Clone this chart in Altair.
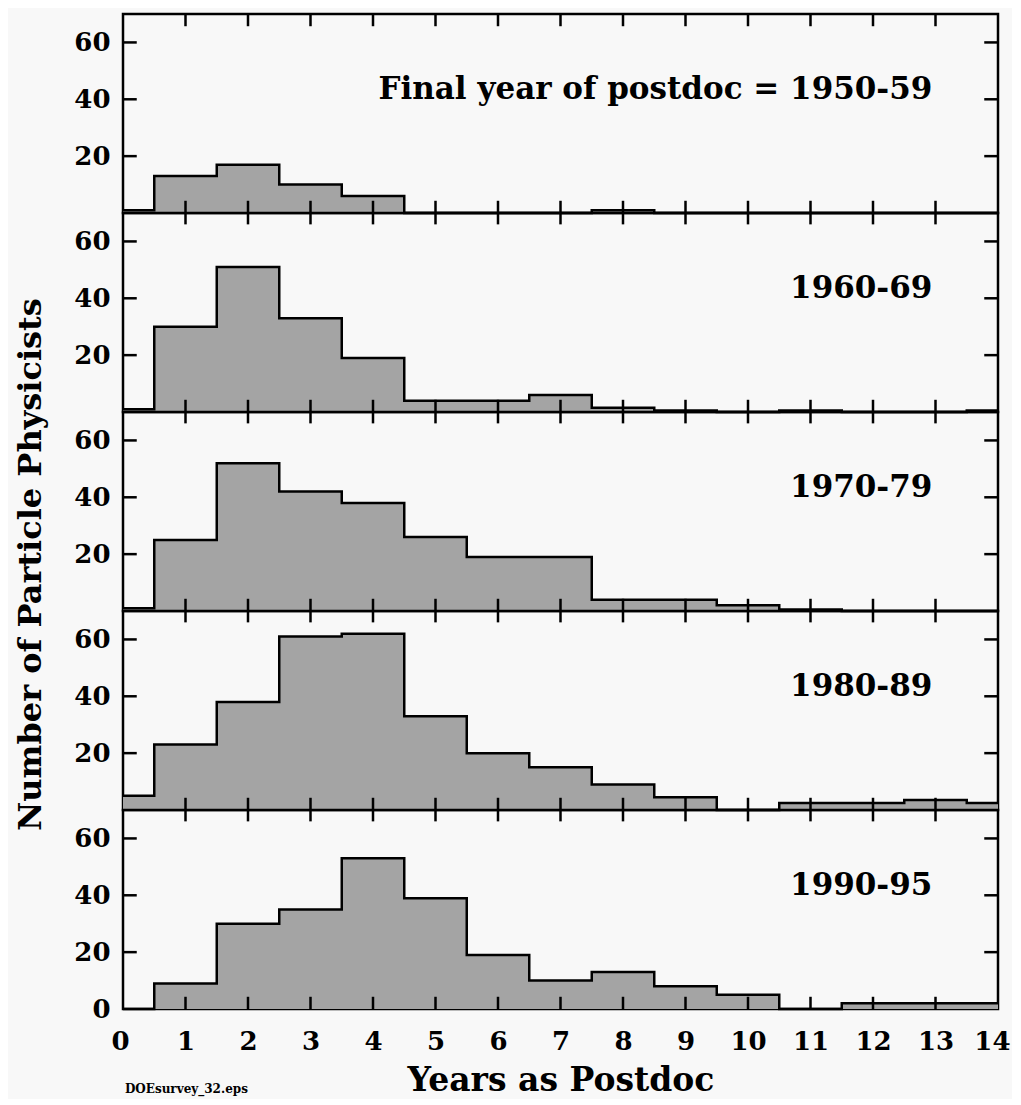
import altair as alt
import pandas as pd

# ---------------- data ----------------
bin_left_edges = [0, 0.5, 1.5, 2.5, 3.5, 4.5, 5.5, 6.5, 7.5, 8.5, 9.5, 10.5, 11.5, 12.5, 13.5]
x_end = 14

counts_1950s = [1, 13, 17, 10, 6, 0, 0, 0, 1, 0, 0, 0, 0, 0, 0]
counts_1960s = [1, 30, 51, 33, 19, 4, 4, 6, 1.5, 0.5, 0, 0.5, 0, 0, 0.5]
counts_1970s = [1, 25, 52, 42, 38, 26, 19, 19, 4, 4, 2, 0.5, 0, 0, 0]
counts_1980s = [5, 23, 38, 61, 62, 33, 20, 15, 9, 4.5, 0, 2.5, 2.5, 3.5, 2.5]
counts_1990s = [0, 9, 30, 35, 53, 39, 19, 10, 13, 8, 5, 0, 2, 2, 2]

series = [counts_1950s, counts_1960s, counts_1970s, counts_1980s, counts_1990s]
panel_labels = ["Final year of postdoc = 1950-59", "1960-69", "1970-79", "1980-89", "1990-95"]

x_tick_values = list(range(1, 14))
x_label_values = list(range(0, 15))
y_tick_values = [20, 40, 60]
y_label_values_last = [0, 20, 40, 60]

# ---------------- style ----------------
FONT = "DejaVu Serif"
FILL = "#a4a4a4"
BG = "#f8f8f8"
W, H = 875, 199
X_DOMAIN = [0, 14]
Y_DOMAIN = [0, 70]
TICK_Y = 4.0      # half length of x ticks in y units
TICK_X = 0.22     # length of y ticks in x units
LW = 2.5

xscale = alt.Scale(domain=X_DOMAIN, nice=False, zero=False)
yscale = alt.Scale(domain=Y_DOMAIN, nice=False)


def panel(i):
    vals = series[i]
    last = i == len(series) - 1
    first = i == 0
    xs = bin_left_edges + [x_end]
    vs = vals + [vals[-1]]
    df = pd.DataFrame({"x": xs, "v": vs})

    if last:
        x_axis = alt.Axis(values=x_label_values, ticks=False, domain=False, grid=False,
                          labelFont=FONT, labelFontWeight="bold", labelFontSize=26,
                          labelColor="black", labelPadding=19, labelFlush=True,
                          labelFlushOffset=12,
                          title="Years as Postdoc", titleFont=FONT, titleFontSize=33,
                          titleFontWeight="bold", titleColor="black", titlePadding=10,
                          format="d")
        y_vals = y_label_values_last
    else:
        x_axis = None
        y_vals = y_tick_values

    y_axis_kw = dict(values=y_vals, ticks=False, domain=False, grid=False,
                     labelFont=FONT, labelFontWeight="bold", labelFontSize=26,
                     labelColor="black", labelPadding=13, labelFlush=False, format="d")
    if i == 2:
        y_axis = alt.Axis(title="Number of Particle Physicists", titleFont=FONT,
                          titleFontSize=32, titleFontWeight="bold", titleColor="black",
                          titleX=-93, titleY=152, titleAngle=-90,
                          titleAlign="center", titleBaseline="middle", **y_axis_kw)
    else:
        y_axis = alt.Axis(title=None, **y_axis_kw)

    base = alt.Chart(df)
    area = base.mark_area(interpolate="step-after", color=FILL).encode(
        x=alt.X("x:Q", scale=xscale, axis=x_axis),
        y=alt.Y("v:Q", scale=yscale, axis=y_axis),
    )
    line = base.mark_line(interpolate="step-after", color="black", strokeWidth=LW,
                          strokeJoin="miter").encode(x="x:Q", y="v:Q")

    tdf = pd.DataFrame({"t": x_tick_values})
    # bottom ticks: crossing between panels, inward on the last one
    bot = alt.Chart(tdf).mark_rule(color="black", strokeWidth=LW).encode(
        x="t:Q",
        y=alt.datum(0 if last else -TICK_Y),
        y2=alt.datum(TICK_Y + 0.3),
    )
    layers = [area, line, bot]
    if first:
        top = alt.Chart(tdf).mark_rule(color="black", strokeWidth=LW).encode(
            x="t:Q", y=alt.datum(Y_DOMAIN[1]), y2=alt.datum(Y_DOMAIN[1] - TICK_Y - 0.3))
        layers.append(top)

    ydf = pd.DataFrame({"t": y_tick_values})
    left = alt.Chart(ydf).mark_rule(color="black", strokeWidth=LW).encode(
        y="t:Q", x=alt.datum(X_DOMAIN[0]), x2=alt.datum(X_DOMAIN[0] + TICK_X))
    right = alt.Chart(ydf).mark_rule(color="black", strokeWidth=LW).encode(
        y="t:Q", x=alt.datum(X_DOMAIN[1] - TICK_X), x2=alt.datum(X_DOMAIN[1]))
    layers += [left, right]

    ldf = pd.DataFrame({"label": [panel_labels[i]]})
    label = alt.Chart(ldf).mark_text(font=FONT, fontWeight="bold", fontSize=31,
                                     align="right", baseline="alphabetic",
                                     color="black").encode(
        x=alt.datum(12.95), y=alt.datum(40), text="label:N")
    layers.append(label)

    if last:
        ndf = pd.DataFrame({"note": ["DOEsurvey_32.eps"]})
        note = alt.Chart(ndf).mark_text(font=FONT, fontWeight="bold", fontSize=12,
                                        align="left", baseline="middle",
                                        color="black").encode(
            x=alt.datum(0.03), y=alt.datum(-28), text="note:N")
        layers.append(note)

    return alt.layer(*layers).properties(width=W, height=H)


chart = alt.vconcat(*[panel(i) for i in range(5)], spacing=0, bounds="flush").properties(
    background=BG,
    padding={"left": 4, "top": 3, "right": 0, "bottom": 0},
).configure_view(
    stroke="black", strokeWidth=LW, fill=None
)

chart.save("out.html", embed_options={"renderer": "svg", "actions": False})
